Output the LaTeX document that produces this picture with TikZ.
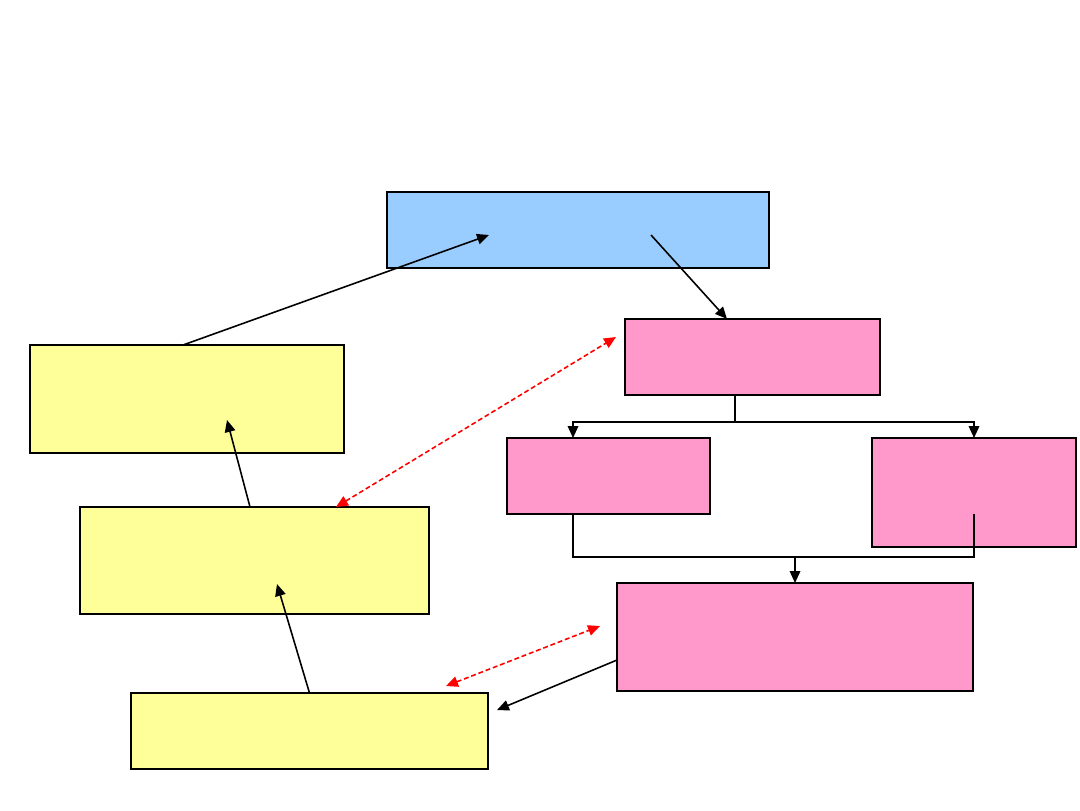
\documentclass[tikz,border=0pt]{standalone}
\usetikzlibrary{arrows.meta,positioning,calc}
\definecolor{skyblue}{HTML}{99CCFF}
\definecolor{rosebox}{HTML}{FF99CC}
\definecolor{lemonbox}{HTML}{FFFF99}

\begin{document}
\begin{tikzpicture}[
      >={Triangle[length=3.4pt,width=3pt]},
      box/.style={draw, line width=0.7pt, inner sep=0pt, outer sep=0pt},
      blu/.style={box, fill=skyblue},
      pnk/.style={box, fill=rosebox},
      ylw/.style={box, fill=lemonbox},
      link/.style={->, line width=0.45pt},
      rel/.style={<->, red, line width=0.45pt, dash pattern=on 1.4pt off 0.8pt}
    ]
    \useasboundingbox (0,0) rectangle (10.8,-8.1);
    % boxes
    \node[blu, minimum width=3.82cm, minimum height=0.76cm] (top)  at (5.78,-2.30)  {};
    \node[pnk, minimum width=2.55cm, minimum height=0.76cm] (p1)   at (7.525,-3.57) {};
    \node[pnk, minimum width=2.03cm, minimum height=0.76cm] (p2)   at (6.085,-4.76) {};
    \node[pnk, minimum width=2.04cm, minimum height=1.09cm] (p3)   at (9.74,-4.925) {};
    \node[pnk, minimum width=3.56cm, minimum height=1.08cm] (p4)   at (7.95,-6.37)  {};
    \node[ylw, minimum width=3.14cm, minimum height=1.08cm] (y1)   at (1.87,-3.99)  {};
    \node[ylw, minimum width=3.49cm, minimum height=1.07cm] (y2)   at (2.545,-5.605) {};
    \node[ylw, minimum width=3.57cm, minimum height=0.76cm] (y3)   at (3.095,-7.31) {};
    % free ends
    \coordinate (topin)  at (4.89,-2.35);
    \coordinate (topout) at (6.51,-2.35);
    \coordinate (y1in)   at (2.27,-4.20);
    \coordinate (y2in)   at (2.77,-5.84);
    \coordinate (y3tip)  at (4.97,-7.10);
    \coordinate (p3in)   at (9.74,-5.14);
    % black links
    \draw[link] ([xshift=-0.04cm]y1.north) -- (topin);
    \draw[link] (topout) -- ([xshift=-0.255cm]p1.north);
    \draw[line width=0.45pt] ([xshift=-0.175cm]p1.south) -- ++(0,-0.27) coordinate (split);
    \draw[link] (split) -| ([xshift=-0.355cm]p2.north);
    \draw[link] (split) -| (p3.north);
    \draw[line width=0.7pt] ([xshift=-0.355cm]p2.south) -- ++(0,-0.43) coordinate (merge) -| (p3in);
    \draw[link] (merge -| p4.north) -- (p4.north);
    \draw[link] ([xshift=-0.045cm]y2.north) -- (y1in);
    \draw[link] (y3.north) -- (y2in);
    \draw[link] ([yshift=-0.23cm]p4.west) -- (y3tip);
    % red relations
    \draw[rel] ([xshift=0.815cm]y2.north) -- (6.16,-3.37);
    \draw[rel] (4.46,-6.86) -- (6.00,-6.26);
  \end{tikzpicture}
\end{document}
